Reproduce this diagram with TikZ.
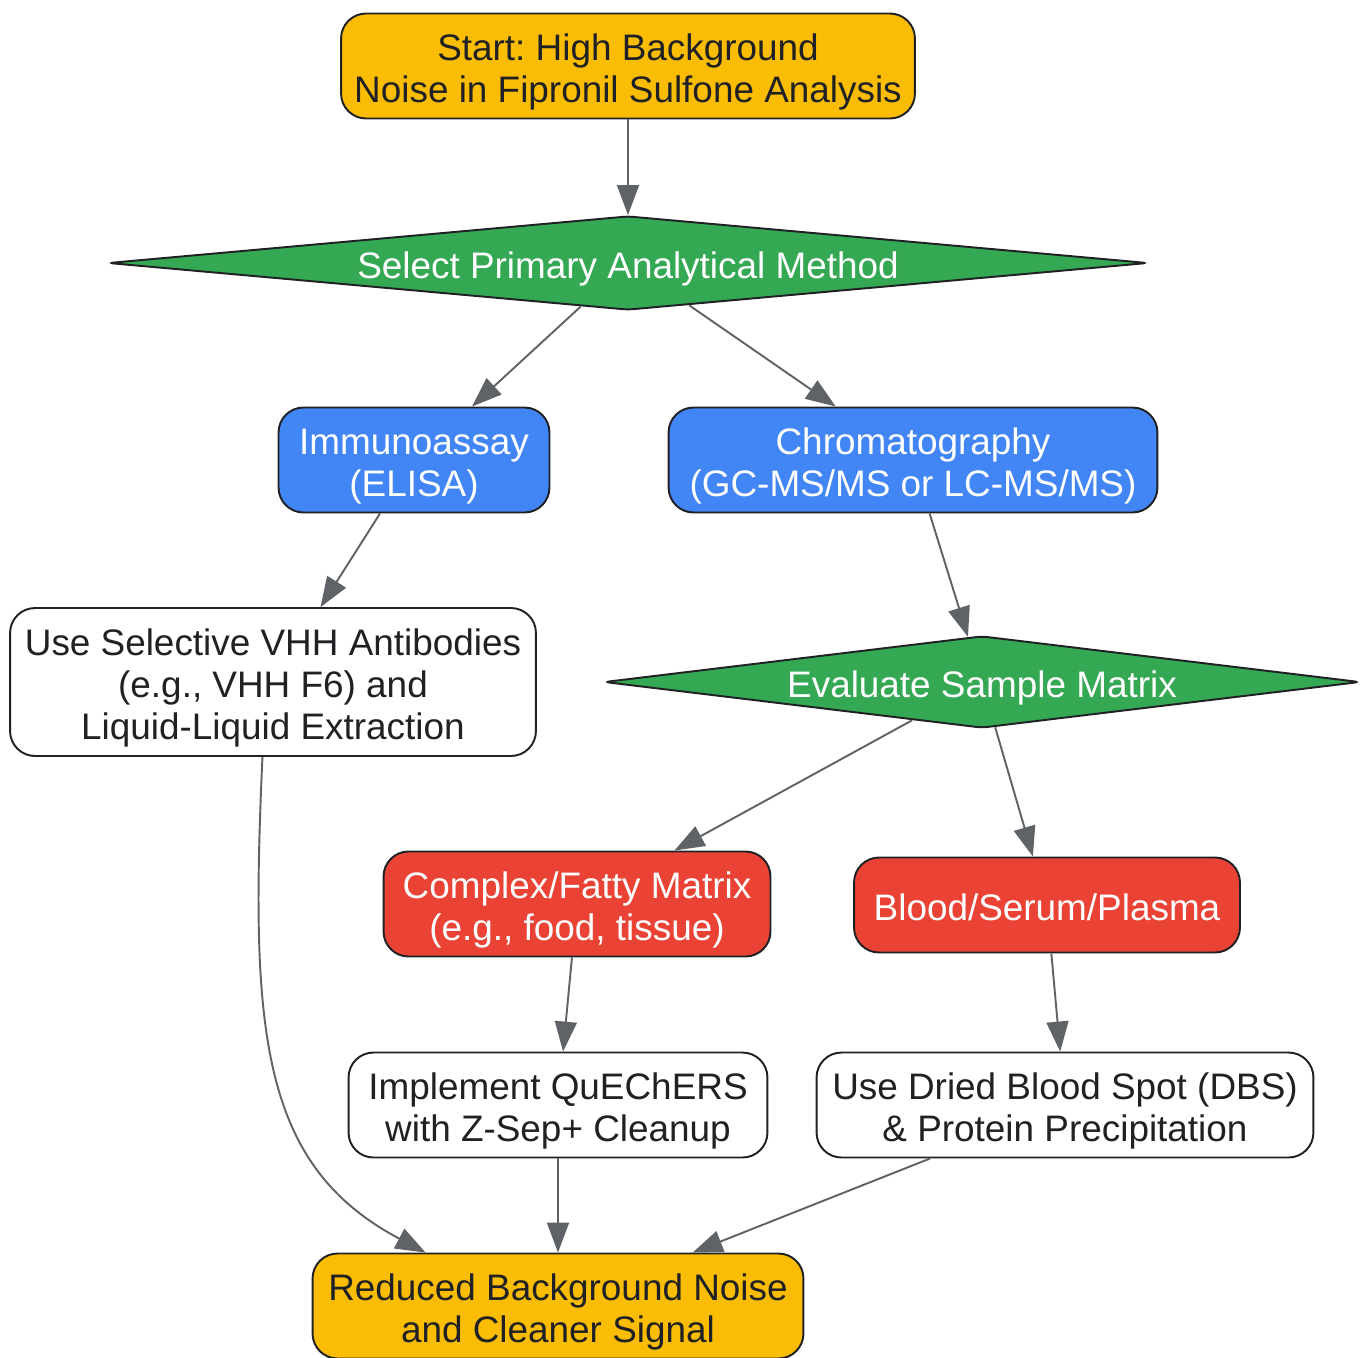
\documentclass[tikz,border=0pt]{standalone}
\usepackage{fontspec}
\setmainfont{Liberation Sans}
\usepackage{xcolor}
\definecolor{flowStart}{HTML}{FBBC04}
\definecolor{flowDecision}{HTML}{34A853}
\definecolor{flowMethod}{HTML}{4285F4}
\definecolor{flowMatrix}{HTML}{EA4335}
\definecolor{flowEdge}{HTML}{5F6368}
\definecolor{flowText}{HTML}{202124}
\usetikzlibrary{shapes.geometric,arrows.meta}
\frenchspacing
\newcommand{\boxstrut}{\rule{0pt}{22.1pt}}

\tikzset{
  label text/.style={font=\fontsize{21}{23.9}\selectfont,
    execute at begin node={\boxstrut},
    execute at end node={\rule[-5pt]{0pt}{5pt}}},
  box/.style={rectangle, rounded corners=0.5cm, draw=flowText, line width=1.1pt,
    align=center, text=flowText, inner sep=0pt, label text},
  decision/.style={diamond, rounded corners=3pt, draw=flowText, line width=1.1pt,
    fill=flowDecision, text=white, inner xsep=0pt, inner ysep=-0.3cm, align=center, label text},
  flow/.style={flowEdge, line width=1.1pt, -{Triangle[length=0.6cm, width=0.44cm]}}
}

\begin{document}
\begin{tikzpicture}[x=0.02cm, y=-0.02cm]
  \useasboundingbox (0,0) rectangle (1360,1357);
  \node[box, fill=flowStart, minimum width=11.48cm, minimum height=2.1cm] (start) at (628,66) {\boxstrut Start: High Background\\Noise in Fipronil Sulfone Analysis};
  \node[decision, shape aspect=11, minimum width=20.8cm, minimum height=1.88cm] (method) at (628,263) {Select Primary Analytical Method};
  \node[box, fill=flowMethod, text=white, minimum width=5.42cm, minimum height=2.1cm] (immuno) at (414,460) {\boxstrut Immunoassay\\(ELISA)};
  \node[box, fill=flowMethod, text=white, minimum width=9.78cm, minimum height=2.1cm] (chrom) at (913,460) {\boxstrut Chromatography\\(GC-MS/MS or LC-MS/MS)};
  \node[box, fill=white, minimum width=10.52cm, minimum height=2.96cm] (vhh) at (273,682) {\boxstrut Use Selective VHH Antibodies\\(e.g., VHH F6) and\\Liquid-Liquid Extraction};
  \node[decision, shape aspect=8.2, minimum width=15.12cm, minimum height=1.84cm] (matrix) at (982,682) {Evaluate Sample Matrix};
  \node[box, fill=flowMatrix, text=white, minimum width=7.74cm, minimum height=2.1cm] (fatty) at (577,904) {\boxstrut Complex/Fatty Matrix\\(e.g., food, tissue)};
  \node[box, fill=flowMatrix, text=white, minimum width=7.72cm, minimum height=1.9cm] (blood) at (1047,905) {Blood/Serum/Plasma};
  \node[box, fill=white, minimum width=8.38cm, minimum height=2.1cm] (quechers) at (558,1105) {\boxstrut Implement QuEChERS\\with Z-Sep+ Cleanup};
  \node[box, fill=white, minimum width=9.94cm, minimum height=2.1cm] (dbs) at (1065,1105) {\boxstrut Use Dried Blood Spot (DBS)\\\& Protein Precipitation};
  \node[box, fill=flowStart, minimum width=9.82cm, minimum height=2.1cm] (result) at (558,1306) {\boxstrut Reduced Background Noise\\and Cleaner Signal};
  \draw[flow] (start) -- (method);
  \draw[flow] (method) -- (immuno);
  \draw[flow] (method) -- (chrom);
  \draw[flow] (immuno) -- (vhh);
  \draw[flow] (chrom) -- (matrix);
  \draw[flow] (matrix) -- (fatty);
  \draw[flow] (matrix) -- (blood);
  \draw[flow] (fatty) -- (quechers);
  \draw[flow] (blood) -- (dbs);
  \draw[flow] (quechers) -- (result);
  \draw[flow] (dbs) -- (result);
  \draw[flow] (vhh.-98) .. controls (250,1030) and (260,1165) .. (result.158);
\end{tikzpicture}
\end{document}
